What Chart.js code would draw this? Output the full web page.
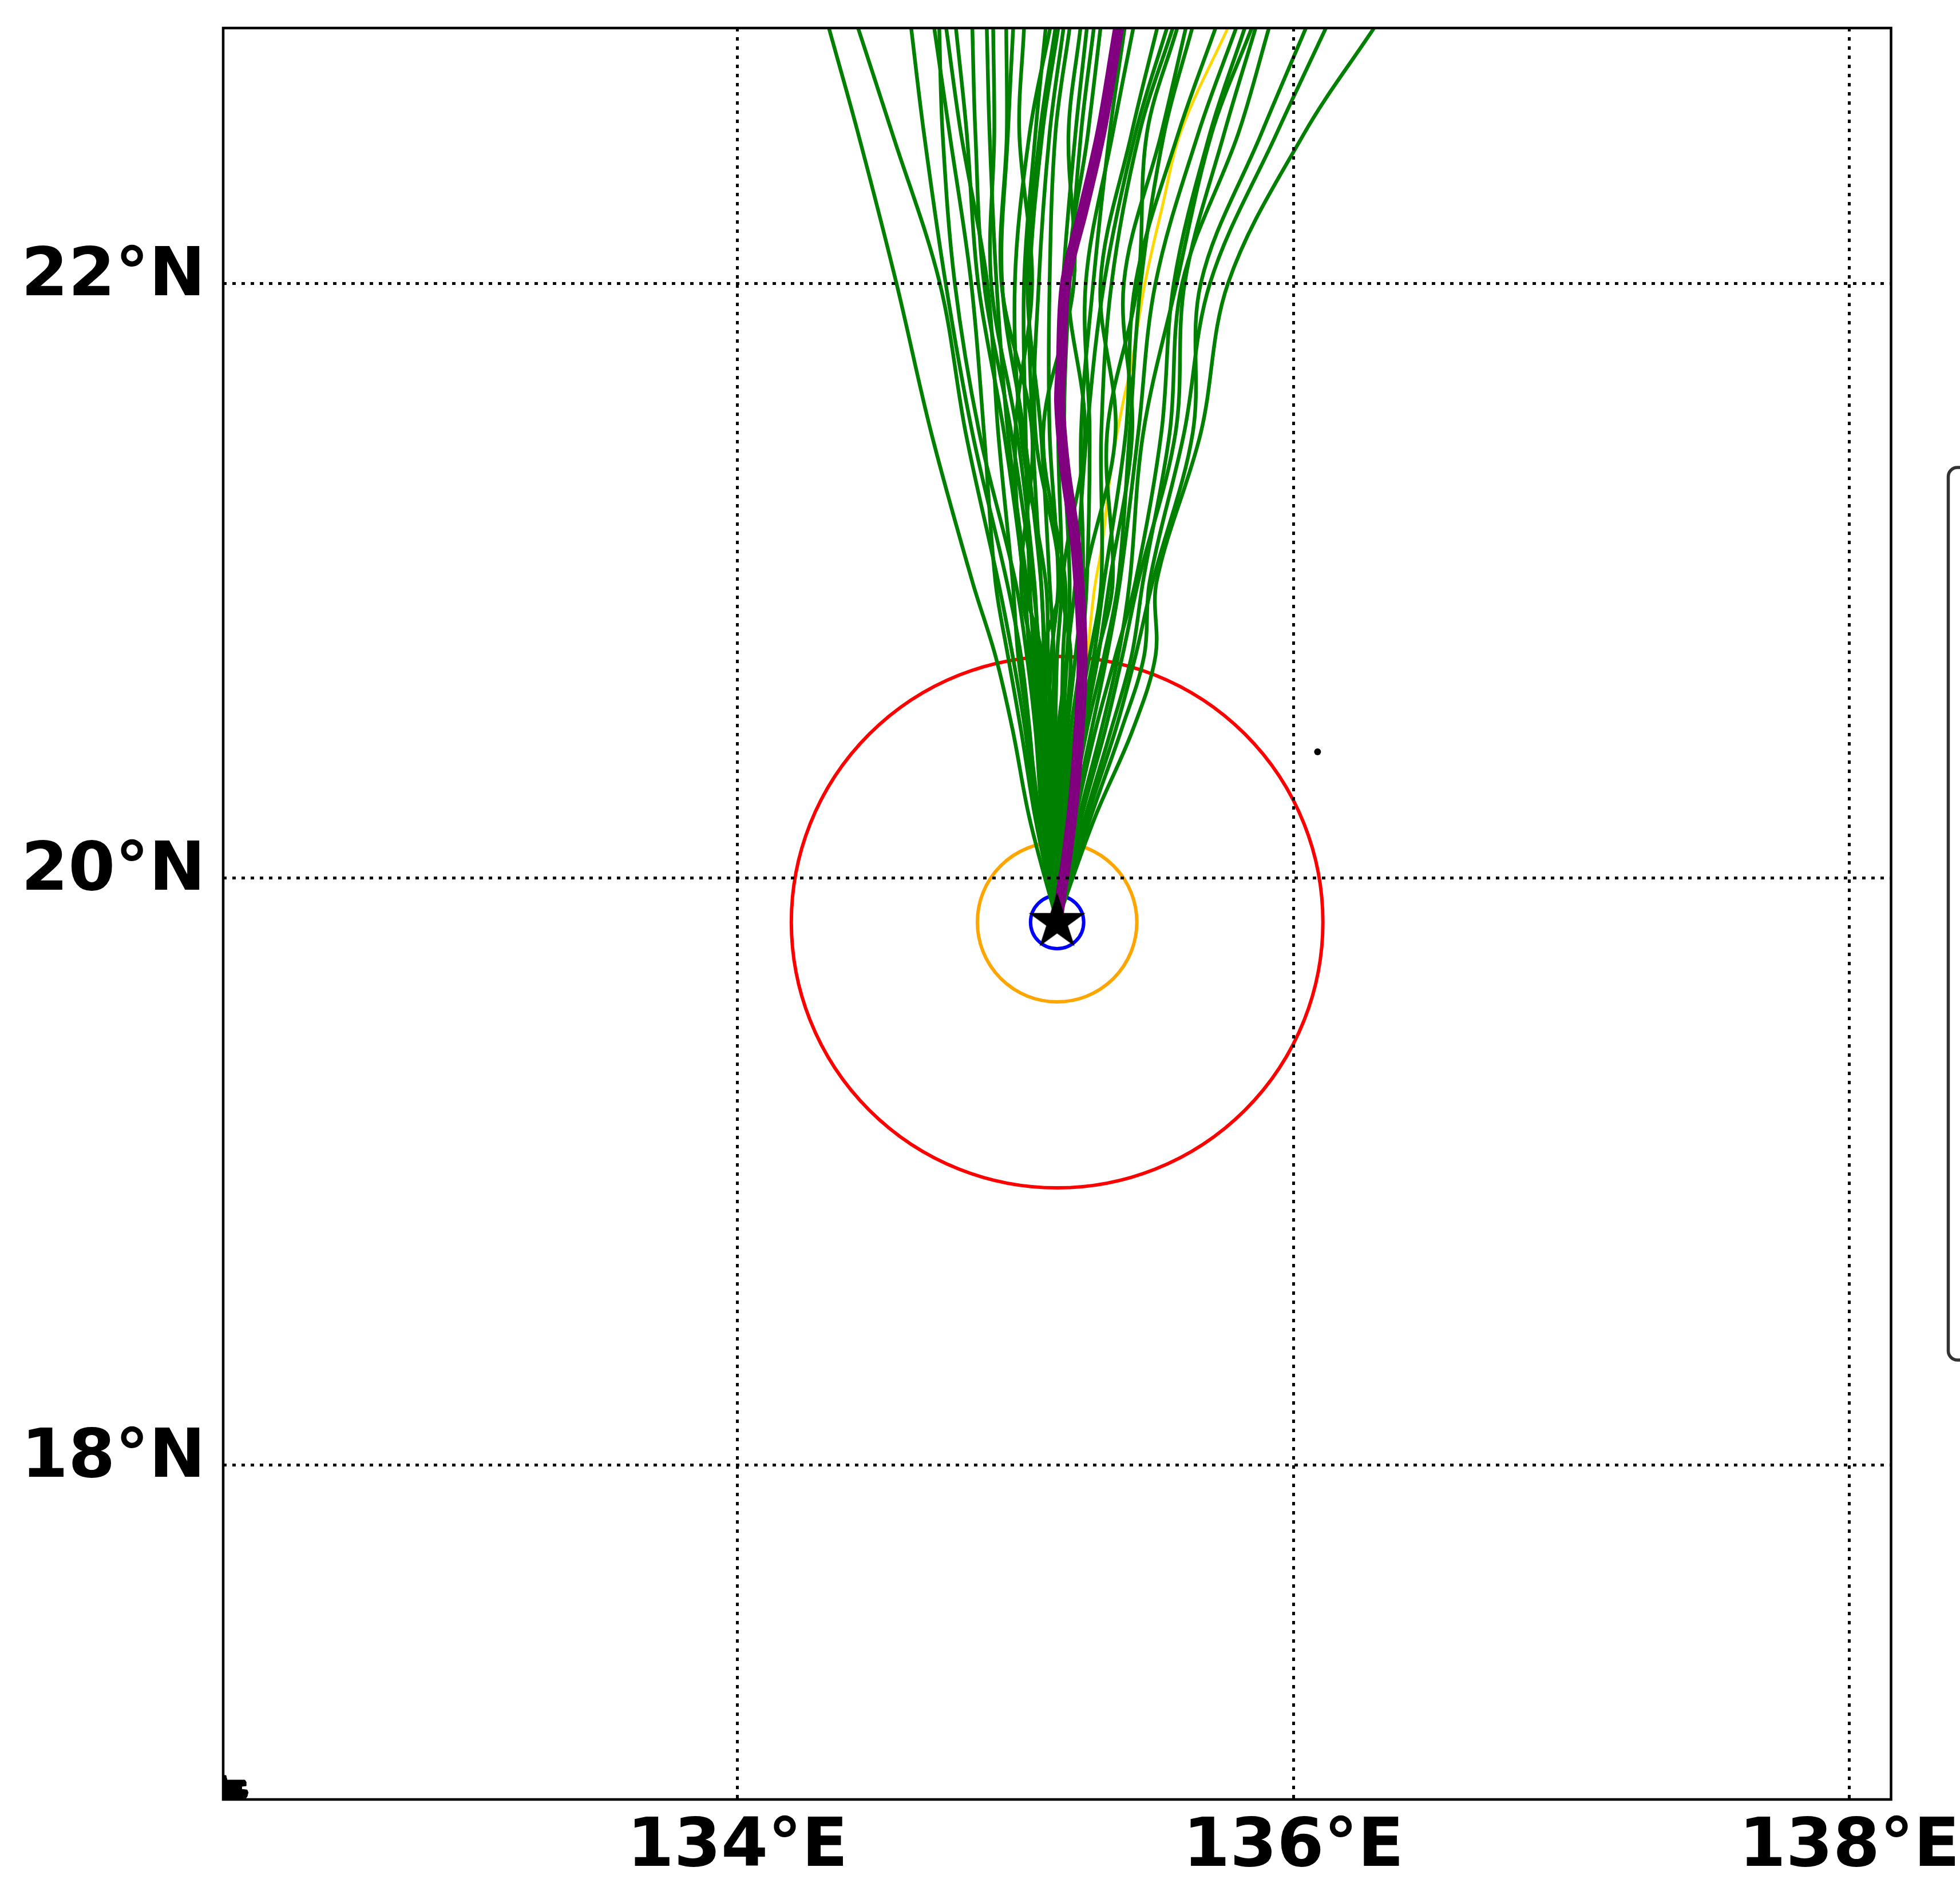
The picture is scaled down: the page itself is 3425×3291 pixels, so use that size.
<!DOCTYPE html>
<html>
<head>
<meta charset="utf-8">
<script src="https://cdn.jsdelivr.net/npm/chart.js@4.4.1/dist/chart.umd.min.js"></script>
<style>
html,body{margin:0;padding:0;background:#fff;}
canvas{display:block;}
</style>
</head>
<body>
<canvas id="c" width="3425" height="3291" style="width:3425px;height:3291px"></canvas>
<script>
// ---------------- data ----------------
const lonRange = [132.15, 138.15];
const latRange = [16.85, 22.85];
const lonTicks = [134, 136, 138];
const latTicks = [18, 20, 22];

const stormLon = 135.15;
const stormLat = 19.85;
const ringRadiiKm = [10, 30, 100];
const ringColors = ['#0000ff', '#ffa500', '#ff0000'];

const markerLon = 136.087;
const markerLat = 20.426;

// ensemble member tracks: longitude at each of these latitudes
const trackLats = [19.85, 20.2, 20.5, 20.75, 21.0, 21.5, 22.0, 22.5, 22.85, 23.05];
const memberTracksLon = [
  [135.15, 135.051, 134.990, 134.928, 134.845, 134.697, 134.572, 134.434, 134.329, 134.269],
  [135.15, 135.076, 135.035, 134.990, 134.938, 134.821, 134.728, 134.557, 134.434, 134.364],
  [135.15, 135.082, 135.051, 135.020, 134.969, 134.845, 134.749, 134.671, 134.625, 134.599],
  [135.15, 135.072, 135.020, 134.973, 134.928, 134.887, 134.841, 134.763, 134.708, 134.677],
  [135.15, 135.097, 135.072, 135.041, 135.000, 134.870, 134.782, 134.738, 134.726, 134.719],
  [135.15, 135.088, 135.047, 135.010, 134.990, 134.938, 134.899, 134.804, 134.751, 134.721],
  [135.15, 135.105, 135.082, 135.051, 135.031, 134.959, 134.866, 134.825, 134.786, 134.764],
  [135.15, 135.101, 135.088, 135.076, 135.041, 134.973, 134.932, 134.907, 134.897, 134.891],
  [135.15, 135.113, 135.097, 135.082, 135.068, 135.006, 134.913, 134.924, 134.920, 134.918],
  [135.15, 135.109, 135.076, 135.062, 135.020, 135.060, 134.950, 134.969, 134.967, 134.966],
  [135.15, 135.121, 135.113, 135.103, 135.092, 135.031, 134.952, 134.973, 134.992, 135.003],
  [135.15, 135.117, 135.105, 135.097, 135.030, 135.000, 135.060, 135.014, 135.031, 135.041],
  [135.15, 135.129, 135.125, 135.117, 135.109, 135.020, 134.998, 135.051, 135.125, 135.167],
  [135.15, 135.125, 135.134, 135.138, 135.123, 135.092, 135.043, 135.088, 135.144, 135.176],
  [135.15, 135.138, 135.146, 135.100, 135.160, 135.072, 135.084, 135.123, 135.173, 135.201],
  [135.15, 135.134, 135.121, 135.129, 135.154, 135.123, 135.123, 135.144, 135.195, 135.224],
  [135.15, 135.146, 135.164, 135.171, 135.179, 135.100, 135.210, 135.191, 135.234, 135.259],
  [135.15, 135.142, 135.154, 135.185, 135.195, 135.175, 135.195, 135.236, 135.282, 135.308],
  [135.15, 135.154, 135.179, 135.199, 135.170, 135.250, 135.190, 135.261, 135.306, 135.332],
  [135.15, 135.158, 135.187, 135.216, 135.243, 135.236, 135.280, 135.339, 135.393, 135.424],
  [135.15, 135.164, 135.199, 135.236, 135.257, 135.267, 135.253, 135.350, 135.424, 135.466],
  [135.15, 135.171, 135.212, 135.247, 135.250, 135.360, 135.306, 135.418, 135.510, 135.562],
  [135.15, 135.175, 135.216, 135.267, 135.309, 135.309, 135.346, 135.446, 135.566, 135.634],
  [135.15, 135.183, 135.236, 135.294, 135.350, 135.330, 135.440, 135.473, 135.582, 135.644],
  [135.15, 135.191, 135.247, 135.298, 135.339, 135.420, 135.390, 135.525, 135.613, 135.663],
  [135.15, 135.199, 135.257, 135.319, 135.370, 135.411, 135.451, 135.535, 135.636, 135.694],
  [135.15, 135.208, 135.274, 135.329, 135.376, 135.442, 135.504, 135.658, 135.794, 135.872],
  [135.15, 135.216, 135.288, 135.360, 135.432, 135.525, 135.570, 135.700, 135.825, 135.896],
  [135.15, 135.228, 135.309, 135.370, 135.411, 135.460, 135.580, 135.706, 135.850, 135.932],
  [135.15, 135.236, 135.323, 135.385, 135.442, 135.576, 135.609, 135.751, 135.864, 135.928],
  [135.15, 135.249, 135.344, 135.418, 135.459, 135.555, 135.600, 135.802, 135.912, 135.975],
  [135.15, 135.257, 135.360, 135.432, 135.494, 135.638, 135.667, 135.885, 136.045, 136.136],
  [135.15, 135.269, 135.381, 135.463, 135.483, 135.607, 135.700, 135.940, 136.117, 136.218],
  [135.15, 135.284, 135.422, 135.504, 135.508, 135.667, 135.765, 136.039, 136.290, 136.433],
  [135.15, 135.123, 135.109, 135.088, 135.062, 134.985, 134.887, 134.856, 134.845, 134.839],
  [135.15, 135.144, 135.144, 135.150, 135.167, 135.154, 135.171, 135.216, 135.257, 135.280],
  [135.15, 135.132, 135.138, 135.109, 135.092, 135.062, 135.051, 135.097, 135.154, 135.187],
  [135.15, 135.179, 135.230, 135.282, 135.319, 135.397, 135.432, 135.586, 135.720, 135.796],
  [135.15, 135.111, 135.092, 135.068, 135.051, 135.037, 135.031, 135.072, 135.109, 135.130],
  [135.15, 135.154, 135.171, 135.187, 135.216, 135.257, 135.319, 135.432, 135.545, 135.610]
];

// ensemble mean track (thick purple)
const meanTrackLat = [19.85, 19.95, 20.08, 20.29, 20.56, 20.73, 20.88, 21.13, 21.39, 21.6, 21.73, 22.0, 22.25, 22.51, 22.85, 23.05];
const meanTrackLon = [135.15, 135.165, 135.186, 135.212, 135.233, 135.24, 135.236, 135.216, 135.177, 135.159, 135.165, 135.18, 135.245, 135.309, 135.371, 135.41];

// control track (gold)
const ctrlTrackLat = [19.85, 20.25, 20.635, 20.96, 21.13, 21.39, 21.6, 21.73, 22.0, 22.25, 22.51, 22.85, 23.05];
const ctrlTrackLon = [135.15, 135.196, 135.247, 135.282, 135.313, 135.346, 135.387, 135.418, 135.466, 135.527, 135.597, 135.764, 135.862];

// tiny black feature in the lower-left corner
const cornerLon = [132.150, 132.150, 132.160, 132.164, 132.228, 132.232, 132.232, 132.216, 132.216, 132.236, 132.240, 132.236, 132.228, 132.228];
const cornerLat = [16.840, 16.933, 16.933, 16.917, 16.917, 16.911, 16.897, 16.895, 16.885, 16.883, 16.874, 16.860, 16.850, 16.840];

// ---------------- mercator latitude scale ----------------
const merc = (lat) => Math.log(Math.tan(Math.PI / 4 + lat * Math.PI / 360));
const invMerc = (m) => (2 * Math.atan(Math.exp(m)) - Math.PI / 2) * 180 / Math.PI;

class MercatorScale extends Chart.LinearScale {
  getPixelForValue(value) {
    if (value === null || value === undefined) return NaN;
    const m0 = merc(this.min), m1 = merc(this.max);
    return this.getPixelForDecimal((merc(value) - m0) / (m1 - m0));
  }
  getValueForPixel(pixel) {
    const m0 = merc(this.min), m1 = merc(this.max);
    return invMerc(m0 + this.getDecimalForPixel(pixel) * (m1 - m0));
  }
}
MercatorScale.id = 'mercator';
MercatorScale.defaults = {};
Chart.register(MercatorScale);

// ---------------- helpers ----------------
function starCanvas(R) {
  let s = Math.ceil(R * 2 + 6);
  if (s % 2) s += 1;
  const c = document.createElement('canvas');
  c.width = s; c.height = s;
  const g = c.getContext('2d');
  g.translate(s / 2, s / 2);
  g.beginPath();
  for (let i = 0; i < 10; i++) {
    const r = i % 2 ? R * 0.381966 : R;
    const a = -Math.PI / 2 + i * Math.PI / 5;
    g.lineTo(r * Math.cos(a), r * Math.sin(a));
  }
  g.closePath();
  g.fillStyle = '#000';
  g.fill();
  g.lineWidth = 2.5;
  g.lineJoin = 'miter';
  g.strokeStyle = '#000';
  g.stroke();
  return c;
}

const datasets = [];

// star (on top)
datasets.push({
  data: [{x: stormLon, y: stormLat}],
  pointStyle: starCanvas(48),
  pointRadius: 48,
  order: 0
});
// small black dot
datasets.push({
  data: [{x: markerLon, y: markerLat}],
  pointRadius: 6,
  backgroundColor: '#000',
  borderWidth: 0,
  order: 0
});
// mean track
datasets.push({
  data: meanTrackLat.map((la, i) => ({x: meanTrackLon[i], y: la})),
  showLine: true, pointRadius: 0,
  borderColor: '#800080', borderWidth: 19, tension: 0.35,
  borderCapStyle: 'round', borderJoinStyle: 'round',
  order: 1
});
// members
memberTracksLon.forEach((lons) => {
  datasets.push({
    data: lons.map((lo, i) => ({x: lo, y: trackLats[i]})),
    showLine: true, pointRadius: 0,
    borderColor: '#008000', borderWidth: 6.5, tension: 0.35,
    borderCapStyle: 'round', borderJoinStyle: 'round',
    order: 2
  });
});
// control track
datasets.push({
  data: ctrlTrackLat.map((la, i) => ({x: ctrlTrackLon[i], y: la})),
  showLine: true, pointRadius: 0,
  borderColor: '#ffd700', borderWidth: 5, tension: 0.35,
  order: 3
});
// distance rings
ringRadiiKm.forEach((km, k) => {
  datasets.push({
    data: [{x: stormLon, y: stormLat}],
    pointStyle: 'circle',
    pointRadius: (ctx) => {
      const sx = ctx.chart.scales.x;
      if (!sx) return 1;
      const dLon = (km / 111.195) / Math.cos(stormLat * Math.PI / 180);
      return Math.abs(sx.getPixelForValue(stormLon + dLon) - sx.getPixelForValue(stormLon));
    },
    backgroundColor: 'rgba(0,0,0,0)',
    borderColor: ringColors[k],
    borderWidth: 6,
    order: 4
  });
});
// corner feature
datasets.push({
  data: cornerLat.map((la, i) => ({x: cornerLon[i], y: la})),
  showLine: true, pointRadius: 0, tension: 0,
  borderColor: '#000', borderWidth: 1,
  backgroundColor: '#000', fill: 'shape',
  order: 5
});

// ---------------- frame / legend box ----------------
const framePlugin = {
  id: 'frame',
  afterDraw(chart) {
    const {ctx, chartArea: a} = chart;
    ctx.save();
    ctx.strokeStyle = '#000';
    ctx.lineWidth = 4.5;
    ctx.strokeRect(a.left, a.top, a.right - a.left, a.bottom - a.top);
    // legend frame (its content lies outside the figure)
    ctx.strokeStyle = '#333333';
    ctx.lineWidth = 5.5;
    ctx.beginPath();
    ctx.roundRect(a.right + 100, 817, 300, 1560, 16);
    ctx.stroke();
    ctx.restore();
  }
};

const tickFont = {family: "'DejaVu Sans', 'Liberation Sans', sans-serif", weight: 'bold', size: 118};

new Chart(document.getElementById('c'), {
  type: 'scatter',
  data: {datasets},
  options: {
    responsive: false,
    devicePixelRatio: 1,
    animation: false,
    events: [],
    layout: {padding: {left: 0, top: 44, right: 120.5, bottom: 0}},
    elements: {line: {capBezierPoints: false}},
    plugins: {legend: {display: false}, tooltip: {enabled: false}},
    scales: {
      x: {
        type: 'linear',
        min: lonRange[0], max: lonRange[1],
        afterBuildTicks: (s) => { s.ticks = lonTicks.map(v => ({value: v})); },
        afterFit: (s) => { s.height = 146; s.paddingLeft = 0; s.paddingRight = 0; },
        grid: {color: '#000', lineWidth: 5, drawTicks: false, z: 1},
        border: {display: false, dash: [6, 10]},
        ticks: {
          color: '#000', font: tickFont, padding: 15, maxRotation: 0, autoSkip: false,
          callback: (v) => v + '°E'
        }
      },
      y: {
        type: 'mercator',
        min: latRange[0], max: latRange[1],
        afterBuildTicks: (s) => { s.ticks = latTicks.map(v => ({value: v})); },
        afterFit: (s) => { s.width = 390; s.paddingTop = 0; s.paddingBottom = 0; },
        grid: {color: '#000', lineWidth: 5, drawTicks: false, z: 1},
        border: {display: false, dash: [6, 10]},
        ticks: {
          color: '#000', font: tickFont, padding: 31, labelOffset: -10, autoSkip: false,
          callback: (v) => v + '°N'
        }
      }
    }
  },
  plugins: [framePlugin]
});
</script>
</body>
</html>
